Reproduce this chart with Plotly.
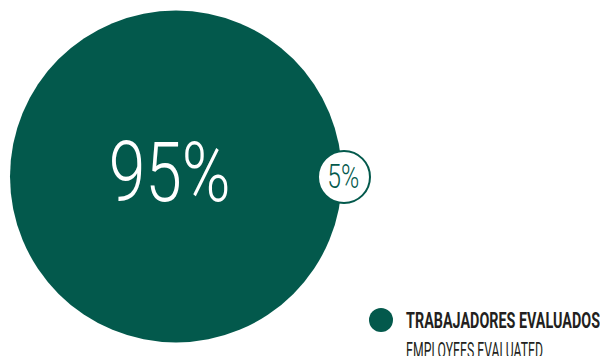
import plotly.graph_objects as go

# data
categories = ["Trabajadores evaluados", "No evaluados"]
values = [95, 5]
legend_title = "TRABAJADORES EVALUADOS"
legend_subtitle = "EMPLOYEES EVALUATED"

GREEN = "#03594C"
TEXT_DARK = "#231F20"
FONT = "Roboto, 'Open Sans', sans-serif"

# layout positions (pixel space)
centers_x = [176, 344]
centers_y = [176.5, 177]
diameters = [332, 52]

fig = go.Figure()
fig.add_trace(go.Scatter(
    x=centers_x, y=centers_y, mode="markers",
    marker=dict(size=diameters, color=[GREEN, "white"],
                line=dict(color=GREEN, width=[0, 2]), opacity=1),
    hoverinfo="text", hovertext=[f"{c}: {v}%" for c, v in zip(categories, values)],
    showlegend=False,
))

# value labels
fig.add_annotation(x=169, y=172.5, text=f"{values[0]}%", showarrow=False,
                   font=dict(family=FONT, size=84, color="white", weight=300),
                   xanchor="center", yanchor="middle")
fig.add_annotation(x=343, y=176.5, text=f"{values[1]}%", showarrow=False,
                   font=dict(family=FONT, size=33, color=GREEN, weight=300),
                   xanchor="center", yanchor="middle")

# legend marker
fig.add_trace(go.Scatter(x=[381], y=[320], mode="markers",
                         marker=dict(size=24, color=GREEN), hoverinfo="skip",
                         showlegend=False))
fig.add_annotation(x=404, y=320, text=f"<b>{legend_title}</b>", showarrow=False,
                   font=dict(family=FONT, size=22, color=TEXT_DARK),
                   xanchor="left", yanchor="middle")
fig.add_annotation(x=404, y=350.5, text=legend_subtitle, showarrow=False,
                   font=dict(family=FONT, size=22, color=TEXT_DARK),
                   xanchor="left", yanchor="middle")

fig.update_layout(
    width=600, height=356, margin=dict(l=0, r=0, t=0, b=0),
    paper_bgcolor="white", plot_bgcolor="white",
    xaxis=dict(range=[0, 600], visible=False, fixedrange=True),
    yaxis=dict(range=[356, 0], visible=False, fixedrange=True),
)

# condense the (non-condensed) installed font horizontally to the reference widths
post = """
document.body.style.margin = '0';
document.body.style.overflow = 'hidden';
var gd = document.getElementById('{plot_id}');
var specs = [[0, 122, 'center'], [1, 32, 'center'], [2, 194, 'left'], [3, 137, 'left']];
specs.forEach(function(s){
  var t = gd.querySelector('g.annotation[data-index="' + s[0] + '"] text.annotation-text');
  if (!t) return;
  var w = t.getBBox().width;
  if (!w) return;
  t.style.transformBox = 'fill-box';
  t.style.transformOrigin = (s[2] === 'left') ? 'left center' : 'center center';
  t.style.transform = 'scaleX(' + (s[1] / w) + ')';
});
"""
fig.write_html("out.html", post_script=post, config={"displayModeBar": False})
